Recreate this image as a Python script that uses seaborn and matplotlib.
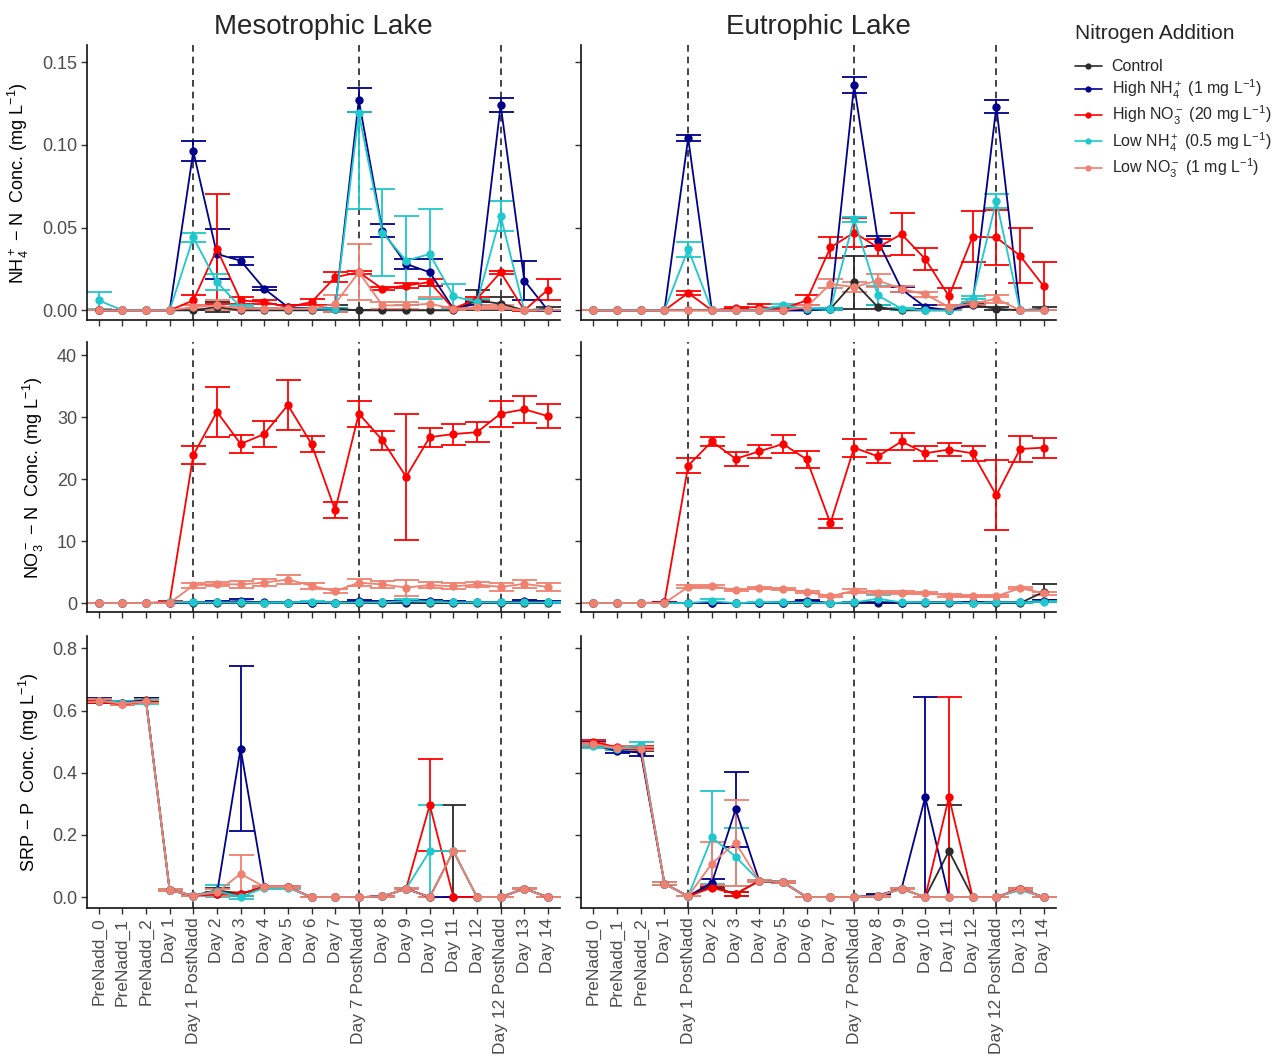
import numpy as np
import pandas as pd
import matplotlib
matplotlib.use("Agg")
import matplotlib.pyplot as plt
from matplotlib.lines import Line2D
import seaborn as sns

# ---------------- data ----------------
categories = ["PreNadd_0", "PreNadd_1", "PreNadd_2", "Day 1", "Day 1 PostNadd", "Day 2", "Day 3",
              "Day 4", "Day 5", "Day 6", "Day 7", "Day 7 PostNadd", "Day 8", "Day 9", "Day 10",
              "Day 11", "Day 12", "Day 12 PostNadd", "Day 13", "Day 14"]
treatments = ["Control", "High NH4", "High NO3", "Low NH4", "Low NO3"]
legend_labels = ["Control",
                 r"High NH$_4^+$ (1 mg L$^{-1}$)",
                 r"High NO$_3^-$ (20 mg L$^{-1}$)",
                 r"Low NH$_4^+$ (0.5 mg L$^{-1}$)",
                 r"Low NO$_3^-$ (1 mg L$^{-1}$)"]
addition_days = ["Day 1 PostNadd", "Day 7 PostNadd", "Day 12 PostNadd"]
lakes = ["Mesotrophic Lake", "Eutrophic Lake"]

# Mesotrophic NH4
meso_nh4_control = [0, 0, 0, 0, 0, 0.002, 0, 0, 0, 0, 0.001, 0, 0, 0, 0, 0, 0.006, 0.004, 0, 0.001]
meso_nh4_control_err = [0, 0, 0, 0, 0, 0.003, 0, 0, 0, 0, 0.002, 0, 0, 0, 0, 0, 0.006, 0.004, 0, 0.001]
meso_nh4_highnh4 = [0, 0, 0, 0, 0.096, 0.034, 0.030, 0.013, 0.002, 0.001, 0.001, 0.127, 0.048, 0.028, 0.023, 0.001, 0.004, 0.124, 0.018, 0.0]
meso_nh4_highnh4_err = [0, 0, 0, 0, 0.006, 0.015, 0.0025, 0.001, 0.001, 0.0005, 0.0005, 0.007, 0.004, 0.003, 0.008, 0.001, 0.001, 0.004, 0.012, 0.0005]
meso_nh4_highno3 = [0, 0, 0, 0, 0.006, 0.037, 0.006, 0.005, 0.002, 0.005, 0.020, 0.023, 0.013, 0.015, 0.017, 0.001, 0.007, 0.023, 0.0, 0.0125]
meso_nh4_highno3_err = [0, 0, 0, 0, 0.003, 0.033, 0.002, 0.001, 0.001, 0.002, 0.003, 0.001, 0.001, 0.0015, 0.002, 0.001, 0.001, 0.001, 0.0005, 0.0063]
meso_nh4_lownh4 = [0.006, 0, 0, 0, 0.044, 0.017, 0.002, 0.001, 0.001, 0.001, 0.001, 0.119, 0.047, 0.030, 0.034, 0.0085, 0.005, 0.057, 0.0, 0.0]
meso_nh4_lownh4_err = [0.005, 0, 0, 0, 0.003, 0.005, 0.001, 0.0005, 0.0005, 0.0005, 0.0005, 0.058, 0.026, 0.027, 0.027, 0.0075, 0.002, 0.009, 0.0, 0.0]
meso_nh4_lownh4_err_up = [0.005, 0, 0, 0, 0.003, 0.005, 0.001, 0.0005, 0.0005, 0.0005, 0.0005, 0.001, 0.026, 0.027, 0.027, 0.0075, 0.002, 0.009, 0.0, 0.0]
meso_nh4_lowno3 = [0, 0, 0, 0, 0.002, 0.003, 0.001, 0.001, 0.001, 0.001, 0.004, 0.023, 0.003, 0.003, 0.004, 0.001, 0.002, 0.002, 0.0, 0.0]
meso_nh4_lowno3_err = [0, 0, 0, 0, 0.001, 0.003, 0.001, 0.0005, 0.0005, 0.0005, 0.005, 0.017, 0.002, 0.002, 0.004, 0.001, 0.001, 0.001, 0, 0]

# Eutrophic NH4
eutro_nh4_control = [0, 0, 0, 0, 0, 0, 0, 0, 0, 0, 0.001, 0.017, 0.002, 0, 0, 0, 0.003, 0.001, 0, 0.001]
eutro_nh4_control_err = [0, 0, 0, 0, 0, 0, 0, 0, 0, 0, 0.0005, 0.016, 0.001, 0, 0, 0, 0.001, 0.001, 0, 0.001]
eutro_nh4_highnh4 = [0, 0, 0, 0, 0.104, 0, 0, 0, 0, 0, 0.001, 0.136, 0.042, 0.0127, 0.002, 0, 0.004, 0.123, 0, 0]
eutro_nh4_highnh4_err = [0, 0, 0, 0, 0.002, 0, 0, 0, 0, 0, 0.0005, 0.005, 0.003, 0.0015, 0.001, 0, 0.001, 0.004, 0, 0]
eutro_nh4_highno3 = [0, 0, 0, 0, 0.0105, 0, 0.0015, 0.002, 0.001, 0.006, 0.038, 0.047, 0.038, 0.046, 0.031, 0.0085, 0.0445, 0.044, 0.033, 0.0145]
eutro_nh4_highno3_err = [0, 0, 0, 0, 0.0013, 0, 0.0005, 0.002, 0.0005, 0.003, 0.0065, 0.0085, 0.005, 0.0125, 0.0065, 0.005, 0.0155, 0.0165, 0.0165, 0.0145]
eutro_nh4_lownh4 = [0, 0, 0, 0, 0.037, 0, 0, 0, 0.003, 0.001, 0.001, 0.055, 0.009, 0.001, 0.0, 0, 0.0077, 0.066, 0, 0]
eutro_nh4_lownh4_err = [0, 0, 0, 0, 0.0045, 0, 0, 0, 0.001, 0.0005, 0.0005, 0.0015, 0.006, 0.0005, 0, 0, 0.001, 0.004, 0, 0]
eutro_nh4_lowno3 = [0, 0, 0, 0, 0, 0, 0, 0, 0, 0.002, 0.016, 0.014, 0.018, 0.013, 0.0097, 0.002, 0.004, 0.007, 0, 0]
eutro_nh4_lowno3_err = [0, 0, 0, 0, 0, 0, 0, 0, 0, 0.001, 0.0028, 0.003, 0.004, 0.002, 0.0015, 0.001, 0.001, 0.0025, 0, 0]

# Mesotrophic NO3
meso_no3_control = [0] * 20
meso_no3_control_err = [0] * 20
meso_no3_highnh4 = [0, 0, 0, 0, 0.1, 0.2, 0.3, 0.1, 0.05, 0.05, 0.05, 0.3, 0.15, 0.2, 0.3, 0.15, 0.1, 0.1, 0.3, 0.2]
meso_no3_highnh4_err = [0, 0, 0, 0, 0.1, 0.1, 0.35, 0.1, 0.05, 0.05, 0.05, 0.15, 0.1, 0.1, 0.2, 0.1, 0.1, 0.1, 0.2, 0.15]
meso_no3_highno3 = [0, 0, 0, 0.2, 23.9, 30.9, 25.7, 27.3, 32.0, 25.7, 15.0, 30.6, 26.3, 20.4, 26.8, 27.3, 27.6, 30.6, 31.3, 30.2]
meso_no3_highno3_err = [0, 0, 0, 0.1, 1.4, 4.0, 1.4, 2.15, 4.1, 1.35, 1.3, 2.1, 1.5, 10.2, 1.55, 1.7, 1.65, 2.1, 2.2, 1.95]
meso_no3_lownh4 = [0, 0, 0, 0.1, 0.1, 0.1, 0.1, 0.05, 0.05, 0.2, 0.05, 0.1, 0.1, 0.3, 0.2, 0.1, 0.1, 0.1, 0.1, 0.1]
meso_no3_lownh4_err = [0, 0, 0, 0.05, 0.05, 0.05, 0.05, 0.05, 0.05, 0.2, 0.05, 0.1, 0.05, 0.3, 0.1, 0.05, 0.05, 0.05, 0.05, 0.05]
meso_no3_lowno3 = [0, 0, 0, 0, 2.85, 3.1, 3.0, 3.3, 3.8, 2.8, 1.9, 3.3, 3.0, 2.5, 2.9, 2.7, 3.0, 2.6, 3.1, 2.6]
meso_no3_lowno3_err = [0, 0, 0, 0, 0.45, 0.3, 0.5, 0.6, 0.7, 0.5, 0.3, 0.6, 0.5, 1.3, 0.5, 0.5, 0.4, 0.6, 0.6, 0.7]

# Eutrophic NO3
eutro_no3_control = [0] * 19 + [1.8]
eutro_no3_control_err = [0] * 19 + [1.35]
eutro_no3_highnh4 = [0, 0, 0, 0.1, 0, 0, 0, 0, 0.05, 0.4, 0, 0.1, 0.1, 0, 0.1, 0.1, 0.1, 0.1, 0.1, 0.3]
eutro_no3_highnh4_err = [0, 0, 0, 0.1, 0, 0, 0, 0, 0.05, 0.1, 0, 0.1, 0.1, 0, 0.1, 0.1, 0.1, 0.1, 0.1, 0.15]
eutro_no3_highno3 = [0, 0, 0, 0.1, 22.2, 26.1, 23.3, 24.5, 25.7, 23.2, 12.9, 25.1, 23.7, 26.1, 24.2, 24.8, 24.2, 17.4, 24.9, 25.1]
eutro_no3_highno3_err = [0, 0, 0, 0.1, 1.25, 0.75, 1.1, 1.1, 1.4, 1.35, 0.75, 1.45, 1.1, 1.4, 1.2, 1.0, 1.25, 5.65, 2.15, 1.6]
eutro_no3_lownh4 = [0, 0, 0, 0, 0, 0.3, 0, 0.1, 0.1, 0.1, 0, 0.1, 0.7, 0.1, 0.1, 0.1, 0, 0.1, 0.1, 0.2]
eutro_no3_lownh4_err = [0, 0, 0, 0, 0, 0.3, 0, 0.05, 0.05, 0.05, 0, 0.05, 0.6, 0.05, 0.05, 0.05, 0, 0.05, 0.05, 0.1]
eutro_no3_lowno3 = [0, 0, 0, 0, 2.6, 2.7, 2.1, 2.4, 2.3, 1.8, 1.1, 2.0, 1.7, 1.7, 1.6, 1.2, 1.1, 1.1, 2.4, 1.6]
eutro_no3_lowno3_err = [0, 0, 0, 0, 0.25, 0.25, 0.2, 0.2, 0.2, 0.2, 0.2, 0.3, 0.2, 0.2, 0.2, 0.2, 0.15, 0.15, 0.2, 0.25]

# Mesotrophic SRP
meso_srp_control = [0.632, 0.624, 0.634, 0.022, 0.005, 0.022, 0.010, 0.033, 0.032, 0.0, 0.0, 0.0, 0.002, 0.027, 0.0, 0.148, 0.0, 0.0, 0.027, 0.0]
meso_srp_control_err = [0.005, 0.003, 0.005, 0.003, 0.002, 0.006, 0.005, 0.003, 0.003, 0.001, 0.001, 0.001, 0.001, 0.002, 0.0, 0.148, 0, 0, 0.002, 0]
meso_srp_highnh4 = [0.632, 0.626, 0.632, 0.022, 0.005, 0.010, 0.478, 0.033, 0.032, 0.0, 0.0, 0.0, 0.002, 0.027, 0.0, 0.0, 0.0, 0.0, 0.027, 0.0]
meso_srp_highnh4_err = [0.008, 0.004, 0.008, 0.003, 0.002, 0.007, 0.265, 0.003, 0.003, 0, 0, 0, 0.002, 0.002, 0, 0, 0, 0, 0.002, 0]
meso_srp_highno3 = [0.630, 0.620, 0.630, 0.022, 0.005, 0.010, 0.010, 0.033, 0.032, 0, 0, 0, 0.002, 0.027, 0.296, 0, 0, 0, 0.027, 0]
meso_srp_highno3_err = [0.005, 0.003, 0.005, 0.003, 0.002, 0.005, 0.005, 0.003, 0.003, 0, 0, 0, 0.002, 0.002, 0.148, 0, 0, 0, 0.002, 0]
meso_srp_lownh4 = [0.632, 0.626, 0.628, 0.022, 0.005, 0.020, 0.0, 0.030, 0.030, 0, 0, 0, 0.002, 0.027, 0.148, 0.148, 0, 0, 0.027, 0]
meso_srp_lownh4_err = [0.005, 0.004, 0.008, 0.003, 0.002, 0.020, 0.005, 0.003, 0.003, 0, 0, 0, 0.002, 0.002, 0.148, 0.0, 0, 0, 0.002, 0]
meso_srp_lowno3 = [0.632, 0.622, 0.630, 0.022, 0.005, 0.015, 0.075, 0.033, 0.033, 0, 0, 0, 0.002, 0.027, 0.0, 0.148, 0, 0, 0.027, 0]
meso_srp_lowno3_err = [0.005, 0.003, 0.005, 0.003, 0.002, 0.010, 0.060, 0.003, 0.003, 0, 0, 0, 0.002, 0.002, 0, 0, 0, 0, 0.002, 0]

# Eutrophic SRP
eutro_srp_control = [0.490, 0.478, 0.475, 0.043, 0.003, 0.035, 0.010, 0.052, 0.048, 0, 0, 0, 0.005, 0.027, 0, 0.148, 0, 0, 0.026, 0]
eutro_srp_control_err = [0.005, 0.005, 0.005, 0.005, 0.001, 0.005, 0.005, 0.003, 0.003, 0, 0, 0, 0.003, 0.002, 0, 0.148, 0, 0, 0.002, 0]
eutro_srp_highnh4 = [0.490, 0.470, 0.465, 0.043, 0.003, 0.046, 0.282, 0.052, 0.048, 0, 0, 0, 0.005, 0.027, 0.322, 0, 0, 0, 0.026, 0]
eutro_srp_highnh4_err = [0.008, 0.008, 0.010, 0.005, 0.001, 0.011, 0.120, 0.003, 0.003, 0, 0, 0, 0.004, 0.002, 0.322, 0, 0, 0, 0.002, 0]
eutro_srp_highno3 = [0.500, 0.482, 0.480, 0.043, 0.003, 0.030, 0.010, 0.052, 0.048, 0, 0, 0, 0.003, 0.027, 0, 0.322, 0, 0, 0.026, 0]
eutro_srp_highno3_err = [0.005, 0.005, 0.005, 0.005, 0.001, 0.005, 0.005, 0.003, 0.003, 0, 0, 0, 0.002, 0.002, 0, 0.322, 0, 0, 0.002, 0]
eutro_srp_lownh4 = [0.485, 0.478, 0.490, 0.043, 0.003, 0.192, 0.130, 0.052, 0.050, 0, 0, 0, 0.003, 0.027, 0, 0, 0, 0, 0.022, 0]
eutro_srp_lownh4_err = [0.005, 0.005, 0.008, 0.005, 0.001, 0.150, 0.093, 0.003, 0.003, 0, 0, 0, 0.002, 0.002, 0, 0, 0, 0, 0.002, 0]
eutro_srp_lowno3 = [0.492, 0.480, 0.478, 0.043, 0.003, 0.108, 0.175, 0.052, 0.048, 0, 0, 0, 0.003, 0.027, 0, 0, 0, 0, 0.026, 0]
eutro_srp_lowno3_err = [0.005, 0.005, 0.005, 0.005, 0.001, 0.070, 0.138, 0.003, 0.003, 0, 0, 0, 0.002, 0.002, 0, 0, 0, 0, 0.002, 0]

y_labels = [r"NH$_4^+$ $-$ N  Conc. (mg L$^{-1}$)",
            r"NO$_3^-$ $-$ N  Conc. (mg L$^{-1}$)",
            r"SRP $-$ P  Conc. (mg L$^{-1}$)"]
y_ticks = [[0.00, 0.05, 0.10, 0.15], [0, 10, 20, 30, 40], [0.0, 0.2, 0.4, 0.6, 0.8]]
y_ticklabels = [["0.00", "0.05", "0.10", "0.15"], ["0", "10", "20", "30", "40"],
                ["0.0", "0.2", "0.4", "0.6", "0.8"]]
y_limits = [(-0.006, 0.160), (-1.45, 42.1), (-0.035, 0.839)]

palette = {"Control": "#2b2b2b", "High NH4": "#00008b", "High NO3": "#ff0000",
           "Low NH4": "#1ec8cc", "Low NO3": "#f08070"}

# (mean, lower error, upper error) per treatment
panels = {
    (0, 0): [(meso_nh4_control, meso_nh4_control_err, meso_nh4_control_err),
             (meso_nh4_highnh4, meso_nh4_highnh4_err, meso_nh4_highnh4_err),
             (meso_nh4_highno3, meso_nh4_highno3_err, meso_nh4_highno3_err),
             (meso_nh4_lownh4, meso_nh4_lownh4_err, meso_nh4_lownh4_err_up),
             (meso_nh4_lowno3, meso_nh4_lowno3_err, meso_nh4_lowno3_err)],
    (0, 1): [(eutro_nh4_control, eutro_nh4_control_err, eutro_nh4_control_err),
             (eutro_nh4_highnh4, eutro_nh4_highnh4_err, eutro_nh4_highnh4_err),
             (eutro_nh4_highno3, eutro_nh4_highno3_err, eutro_nh4_highno3_err),
             (eutro_nh4_lownh4, eutro_nh4_lownh4_err, eutro_nh4_lownh4_err),
             (eutro_nh4_lowno3, eutro_nh4_lowno3_err, eutro_nh4_lowno3_err)],
    (1, 0): [(meso_no3_control, meso_no3_control_err, meso_no3_control_err),
             (meso_no3_highnh4, meso_no3_highnh4_err, meso_no3_highnh4_err),
             (meso_no3_highno3, meso_no3_highno3_err, meso_no3_highno3_err),
             (meso_no3_lownh4, meso_no3_lownh4_err, meso_no3_lownh4_err),
             (meso_no3_lowno3, meso_no3_lowno3_err, meso_no3_lowno3_err)],
    (1, 1): [(eutro_no3_control, eutro_no3_control_err, eutro_no3_control_err),
             (eutro_no3_highnh4, eutro_no3_highnh4_err, eutro_no3_highnh4_err),
             (eutro_no3_highno3, eutro_no3_highno3_err, eutro_no3_highno3_err),
             (eutro_no3_lownh4, eutro_no3_lownh4_err, eutro_no3_lownh4_err),
             (eutro_no3_lowno3, eutro_no3_lowno3_err, eutro_no3_lowno3_err)],
    (2, 0): [(meso_srp_control, meso_srp_control_err, meso_srp_control_err),
             (meso_srp_highnh4, meso_srp_highnh4_err, meso_srp_highnh4_err),
             (meso_srp_highno3, meso_srp_highno3_err, meso_srp_highno3_err),
             (meso_srp_lownh4, meso_srp_lownh4_err, meso_srp_lownh4_err),
             (meso_srp_lowno3, meso_srp_lowno3_err, meso_srp_lowno3_err)],
    (2, 1): [(eutro_srp_control, eutro_srp_control_err, eutro_srp_control_err),
             (eutro_srp_highnh4, eutro_srp_highnh4_err, eutro_srp_highnh4_err),
             (eutro_srp_highno3, eutro_srp_highno3_err, eutro_srp_highno3_err),
             (eutro_srp_lownh4, eutro_srp_lownh4_err, eutro_srp_lownh4_err),
             (eutro_srp_lowno3, eutro_srp_lowno3_err, eutro_srp_lowno3_err)],
}

# ---------------- style ----------------
sns.set_theme(style="ticks")
plt.rcParams["font.family"] = ["Liberation Sans", "DejaVu Sans"]
plt.rcParams["mathtext.fontset"] = "custom"
plt.rcParams["mathtext.rm"] = "Liberation Sans"
plt.rcParams["mathtext.it"] = "Liberation Sans:italic"
plt.rcParams["mathtext.bf"] = "Liberation Sans:bold"
plt.rcParams["axes.unicode_minus"] = False

fig = plt.figure(figsize=(12.78, 10.57), dpi=100)
col_x = [(0.068, 0.438), (0.455, 0.826)]
row_y = [(0.697, 0.957), (0.421, 0.676), (0.141, 0.398)]

xpos = np.arange(len(categories))
for r in range(3):
    for c in range(2):
        x0, x1 = col_x[c]
        y0, y1 = row_y[r]
        ax = fig.add_axes([x0, y0, x1 - x0, y1 - y0])
        rows = []
        for t, (vals, elo, ehi) in zip(treatments, panels[(r, c)]):
            for i in range(len(categories)):
                rows.append({"x": i, "value": vals[i], "elo": elo[i], "ehi": ehi[i],
                             "Treatment": t})
        df = pd.DataFrame(rows)
        for xv in addition_days:
            ax.axvline(categories.index(xv), color="#222222", linestyle=(0, (4, 3)),
                       linewidth=1.2, zorder=1)
        for t in treatments:
            sub = df[df["Treatment"] == t]
            ax.errorbar(sub["x"], sub["value"], yerr=[sub["elo"], sub["ehi"]], fmt="none",
                        ecolor=palette[t], elinewidth=1.3, capsize=9, capthick=1.3, zorder=2)
        sns.lineplot(data=df, x="x", y="value", hue="Treatment", hue_order=treatments,
                     palette=palette, marker="o", markersize=6, markeredgewidth=0,
                     linewidth=1.3, errorbar=None, legend=False, ax=ax, zorder=3)
        ax.set_xlim(-0.5, 19.5)
        ax.set_ylim(*y_limits[r])
        ax.set_xticks(xpos)
        ax.set_yticks(y_ticks[r])
        ax.set_xlabel("")
        ax.set_ylabel("")
        sns.despine(ax=ax)
        for s in ["left", "bottom"]:
            ax.spines[s].set_linewidth(1.2)
            ax.spines[s].set_color("#111111")
        ax.tick_params(axis="both", length=4, width=1.0, color="#333333",
                       labelsize=13, labelcolor="#4d4d4d", pad=3)
        ax.tick_params(axis="x", labelsize=12.5)
        if c == 0:
            ax.set_yticklabels(y_ticklabels[r])
            ax.set_ylabel(y_labels[r], fontsize=13, color="black", labelpad=8)
        else:
            ax.set_yticklabels([])
        if r == 2:
            ax.set_xticklabels(categories, rotation=90)
        else:
            ax.set_xticklabels([])
        if r == 0:
            ax.set_title(lakes[c], fontsize=20, pad=8)

handles = [Line2D([0], [0], color=palette[t], marker="o", markersize=4.5, markeredgewidth=0,
                  linewidth=1.2) for t in treatments]
leg = fig.legend(handles, legend_labels, title="Nitrogen Addition", loc="upper left",
                 bbox_to_anchor=(0.836, 0.983), frameon=False, fontsize=11.5,
                 title_fontsize=15, handlelength=1.7, labelspacing=0.2, handletextpad=0.6,
                 borderpad=0.2, borderaxespad=0.2)
leg._legend_box.align = "left"
leg._legend_box.sep = 11.5

fig.savefig("out.png", dpi=100)
